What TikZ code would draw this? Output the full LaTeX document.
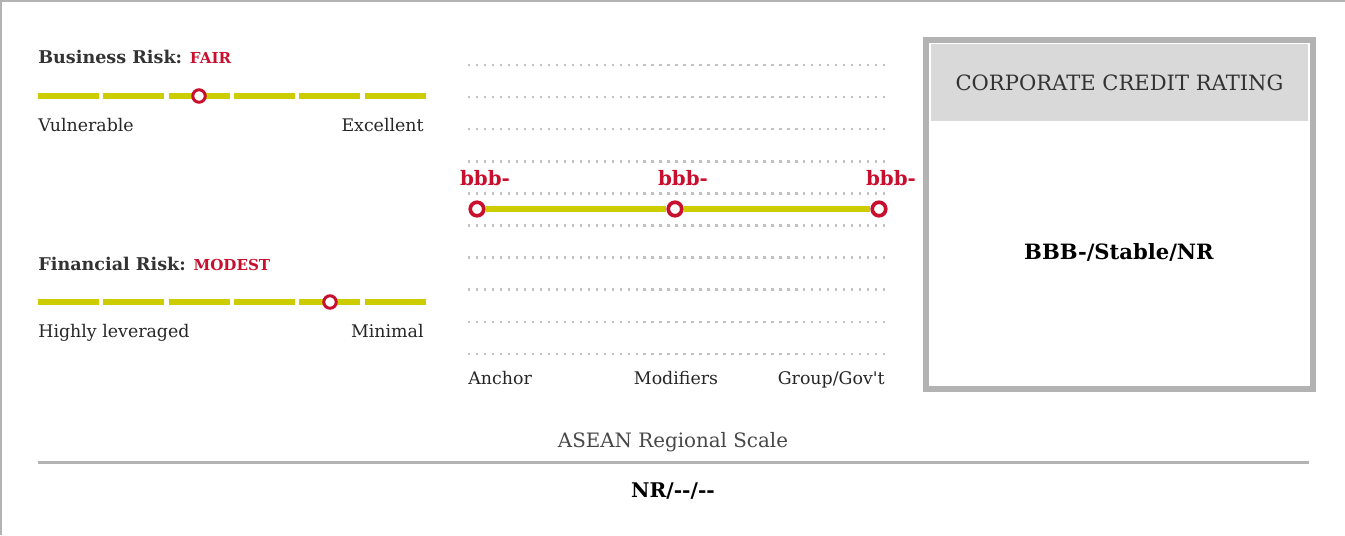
\documentclass[tikz,border=0pt]{standalone}
\usepackage{fontspec}
\setmainfont{DejaVu Serif}[Ligatures=TeXOff]
\usetikzlibrary{positioning}
\definecolor{barLime}{HTML}{CCCC00}
\definecolor{rateRed}{HTML}{C8102E}
\definecolor{frameGray}{HTML}{B3B3B3}
\definecolor{headGray}{HTML}{D9D9D9}
\definecolor{dotGray}{HTML}{C2C2C2}
\definecolor{inkGray}{HTML}{333333}

\begin{document}
\begin{tikzpicture}[
x=0.02cm, y=-0.02cm,
seg/.style={draw=barLime, line width=3.8pt},
pin/.style={circle, draw=rateRed, fill=white, line width=1.7pt, minimum size=0.25cm, inner sep=0pt},
ratepin/.style={pin, line width=2.1pt, minimum size=0.27cm},
gridline/.style={draw=dotGray, line width=1.4pt, dash pattern=on 1.4pt off 3.14pt},
riskhead/.style={anchor=base west, inner sep=0pt, text=inkGray, font=\fontsize{10}{12}\selectfont\bfseries},
riskval/.style={anchor=base west, inner sep=0pt, text=rateRed, font=\fontsize{8.6}{10}\selectfont\bfseries},
endlbl/.style={inner sep=0pt, text=black!85, font=\fontsize{9.9}{12}\selectfont},
ratelbl/.style={anchor=base, inner sep=0pt, text=rateRed, font=\fontsize{11.3}{13}\selectfont\bfseries}
]
\useasboundingbox (0,0) rectangle (1345,535);
\draw[frameGray, line width=1.1pt] (0,1) -- (1345,1) (1,0) -- (1,535);

% business risk
\node[riskhead] (brisk) at (38,63) {Business Risk:};
\node[riskval, right=4pt of brisk.base east, anchor=base west] (bval) {FAIR};
\foreach \i in {0,...,5}
  \draw[seg] ({38+65.3*\i},96) -- ({99+65.3*\i},96);
\node[pin] (bpin) at (199,96) {};
\node[endlbl, anchor=base west] (bweak) at (38,131) {Vulnerable};
\node[endlbl, anchor=base east] (bstrong) at (424,131) {Excellent};

% financial risk
\node[riskhead] (frisk) at (38,270) {Financial Risk:};
\node[riskval, right=4pt of frisk.base east, anchor=base west] (fval) {MODEST};
\foreach \i in {0,...,5}
  \draw[seg] ({38+65.3*\i},302) -- ({99+65.3*\i},302);
\node[pin] (fpin) at (330,302) {};
\node[endlbl, anchor=base west] (fweak) at (38,337) {Highly leveraged};
\node[endlbl, anchor=base east] (fstrong) at (424,337) {Minimal};

% rating path
\foreach \k in {0,...,9}
  \draw[gridline] (468,{65+32.1*\k}) -- (886,{65+32.1*\k});
\node[ratepin] (anchr) at (477,209) {};
\node[ratepin] (modif) at (675,209) {};
\node[ratepin] (group) at (879,209) {};
\draw[seg] (anchr) -- (modif);
\draw[seg] (modif) -- (group);
\node[ratelbl] (anchrval) at (485,185) {bbb-};
\node[ratelbl] (modifval) at (683,185) {bbb-};
\node[ratelbl] (groupval) at (891,185) {bbb-};
\node[endlbl, anchor=base west] (anchrlbl) at (468,384) {Anchor};
\node[endlbl, anchor=base] (modiflbl) at (676,384) {Modifiers};
\node[endlbl, anchor=base east] (grouplbl) at (885,384) {Group/Gov't};

% rating box
\node[draw=frameGray, line width=3.4pt, minimum width=7.74cm, minimum height=7.0cm, inner sep=0pt] (ratebox) at (1119.5,214.5) {};
\node[fill=headGray, minimum width=7.56cm, minimum height=1.55cm, inner sep=0pt, below=0.14cm of ratebox.north,
  text=inkGray, font=\fontsize{12}{14}\selectfont] (ratehead) {CORPORATE CREDIT RATING};
\node[font=\fontsize{12}{14}\selectfont\bfseries, anchor=base] (ratetext) at (1119,259) {BBB-/Stable/NR};

% regional scale
\node[anchor=base, text=inkGray!90, font=\fontsize{11.3}{13}\selectfont] (scalehead) at (673,447) {ASEAN Regional Scale};
\coordinate (ruleL) at (38,462);
\coordinate (ruleR) at (1309,462);
\draw[frameGray, line width=1.7pt] (ruleL) -- (ruleR);
\node[anchor=base, font=\fontsize{11.5}{13}\selectfont\bfseries] (scaletext) at (673,497) {NR/--/--};
\end{tikzpicture}
\end{document}
